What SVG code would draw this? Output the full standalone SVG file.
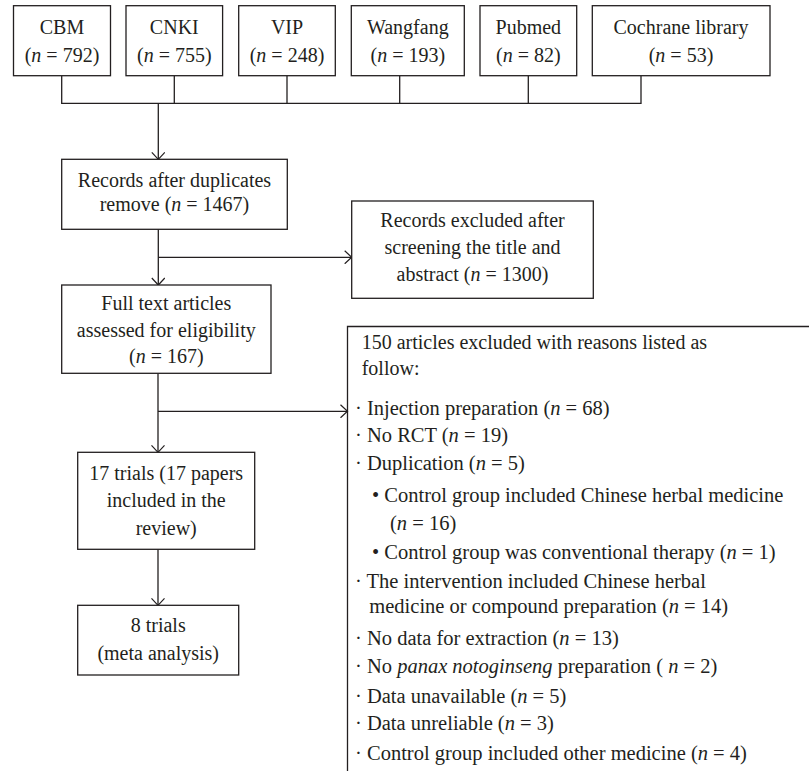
<svg xmlns="http://www.w3.org/2000/svg" width="809" height="771" viewBox="0 0 809 771">
<style>
.box{fill:#fff;stroke:#231f20;stroke-width:1.3}
.ln{fill:none;stroke:#231f20;stroke-width:1.3}
text{font-family:"Liberation Serif","Times New Roman",serif;font-size:20px;fill:#231f20}
.c{text-anchor:middle}
.i{font-style:italic}
.li{font-size:20.5px}
</style>
<defs>
<marker id="arr" viewBox="-8 -7 9 14" refX="0" refY="0" markerWidth="9" markerHeight="14" markerUnits="userSpaceOnUse" orient="auto">
<path d="M-7,-6.5 L0,0 L-7,6.5" fill="none" stroke="#231f20" stroke-width="1.2"/>
</marker>
</defs>
<rect width="809" height="771" fill="#fff"/>
<g id="connectors">
<path class="ln" d="M61.7,75.7 V103.3 H641 V75.7"/>
<line class="ln" x1="174.3" y1="75.7" x2="174.3" y2="103.3"/>
<line class="ln" x1="287" y1="75.7" x2="287" y2="103.3"/>
<line class="ln" x1="399.7" y1="75.7" x2="399.7" y2="103.3"/>
<line class="ln" x1="528.3" y1="75.7" x2="528.3" y2="103.3"/>
<line class="ln" x1="158.3" y1="103.3" x2="158.3" y2="159.3" marker-end="url(#arr)"/>
<line class="ln" x1="158.3" y1="229.3" x2="158.3" y2="285" marker-end="url(#arr)"/>
<line class="ln" x1="158.3" y1="257.3" x2="351.7" y2="257.3" marker-end="url(#arr)"/>
<line class="ln" x1="158" y1="373.3" x2="158" y2="452.3" marker-end="url(#arr)"/>
<line class="ln" x1="158" y1="411.3" x2="347.5" y2="411.3" marker-end="url(#arr)"/>
<line class="ln" x1="158" y1="549.3" x2="158" y2="605.3" marker-end="url(#arr)"/>
</g>
<g id="cbm"><rect class="box" x="13.5" y="5.7" width="97" height="70"/>
<text class="c" x="62" y="34">CBM</text><text class="c" x="62" y="62">(<tspan class="i">n</tspan> = 792)</text></g>
<g id="cnki"><rect class="box" x="126" y="5.7" width="96.6" height="70"/>
<text class="c" x="174.3" y="34">CNKI</text><text class="c" x="174.3" y="62">(<tspan class="i">n</tspan> = 755)</text></g>
<g id="vip"><rect class="box" x="238.7" y="5.7" width="96.6" height="70"/>
<text class="c" x="287" y="34">VIP</text><text class="c" x="287" y="62">(<tspan class="i">n</tspan> = 248)</text></g>
<g id="wangfang"><rect class="box" x="351.3" y="5.7" width="113" height="70"/>
<text class="c" x="407.8" y="34">Wangfang</text><text class="c" x="407.8" y="62">(<tspan class="i">n</tspan> = 193)</text></g>
<g id="pubmed"><rect class="box" x="480" y="5.7" width="96.7" height="70"/>
<text class="c" x="528.3" y="34">Pubmed</text><text class="c" x="528.3" y="62">(<tspan class="i">n</tspan> = 82)</text></g>
<g id="cochrane"><rect class="box" x="592.3" y="5.7" width="177.7" height="70"/>
<text class="c" x="681" y="34">Cochrane library</text><text class="c" x="681" y="62">(<tspan class="i">n</tspan> = 53)</text></g>
<g id="records"><rect class="box" x="61.7" y="159.3" width="225.6" height="70"/>
<text class="c" x="174.5" y="187">Records after duplicates</text><text class="c" x="174.5" y="211">remove (<tspan class="i">n</tspan> = 1467)</text></g>
<g id="excluded"><rect class="box" x="351.7" y="201" width="241.6" height="97.3"/>
<text class="c" x="472.5" y="227">Records excluded after</text><text class="c" x="472.5" y="254">screening the title and</text><text class="c" x="472.5" y="281">abstract (<tspan class="i">n</tspan> = 1300)</text></g>
<g id="fulltext"><rect class="box" x="61.7" y="285" width="209.3" height="88.3"/>
<text class="c" x="166.3" y="310">Full text articles</text><text class="c" x="166.3" y="337">assessed for eligibility</text><text class="c" x="166.3" y="363">(<tspan class="i">n</tspan> = 167)</text></g>
<g id="trials17"><rect class="box" x="77.7" y="452.3" width="177" height="97"/>
<text class="c" x="166.2" y="480">17 trials (17 papers</text><text class="c" x="166.2" y="507">included in the</text><text class="c" x="166.2" y="535">review)</text></g>
<g id="trials8"><rect class="box" x="77.7" y="605.3" width="161" height="69.7"/>
<text class="c" x="158.2" y="632">8 trials</text><text class="c" x="158.2" y="660">(meta analysis)</text></g>
<g id="reasons">
<path class="ln" d="M809,326.5 H347.5 V771"/>
<text x="361.7" y="348.5">150 articles excluded with reasons listed as</text>
<text x="361.7" y="374.5">follow:</text>
<text class="li" x="355" y="415">· Injection preparation (<tspan class="i">n</tspan> = 68)</text>
<text class="li" x="355" y="442">· No RCT (<tspan class="i">n</tspan> = 19)</text>
<text class="li" x="355" y="470">· Duplication (<tspan class="i">n</tspan> = 5)</text>
<text class="li" x="372" y="501.5">• Control group included Chinese herbal medicine</text>
<text class="li" x="390" y="530">(<tspan class="i">n</tspan> = 16)</text>
<text class="li" x="372" y="559.3">• Control group was conventional therapy (<tspan class="i">n</tspan> = 1)</text>
<text class="li" x="355" y="588.3">· The intervention included Chinese herbal</text>
<text class="li" x="369.3" y="612.7">medicine or compound preparation (<tspan class="i">n</tspan> = 14)</text>
<text class="li" x="355" y="645">· No data for extraction (<tspan class="i">n</tspan> = 13)</text>
<text class="li" x="355" y="673.3">· No <tspan class="i">panax notoginseng</tspan> preparation ( <tspan class="i">n</tspan> = 2)</text>
<text class="li" x="355" y="702.7">· Data unavailable (<tspan class="i">n</tspan> = 5)</text>
<text class="li" x="355" y="730">· Data unreliable (<tspan class="i">n</tspan> = 3)</text>
<text class="li" x="355" y="760">· Control group included other medicine (<tspan class="i">n</tspan> = 4)</text>
</g>
</svg>
